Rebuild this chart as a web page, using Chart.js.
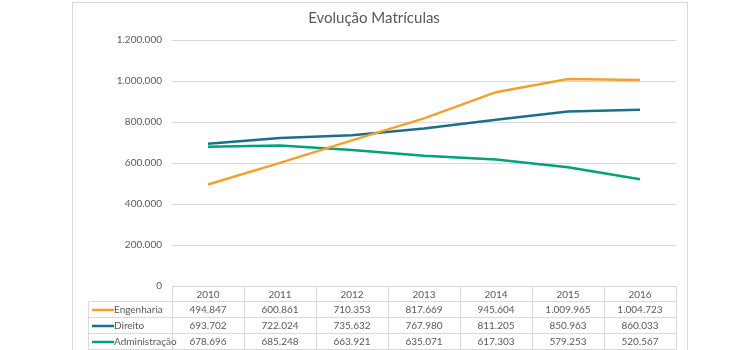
<!DOCTYPE html>
<html>
<head>
<meta charset="utf-8">
<script src="https://cdn.jsdelivr.net/npm/chart.js@4.4.1/dist/chart.umd.min.js"></script>
<style>
    html, body { margin: 0; padding: 0; background: #fff; }
    #wrap { width: 750px; height: 350px; }
</style>
</head>
<body>
<div id="wrap"><canvas id="chart-container" width="750" height="350"></canvas></div>
<script>
const years = ['2010', '2011', '2012', '2013', '2014', '2015', '2016'];
const engenharia = [494847, 600861, 710353, 817669, 945604, 1009965, 1004723];
const direito = [693702, 722024, 735632, 767980, 811205, 850963, 860033];
const administracao = [678696, 685248, 663921, 635071, 617303, 579253, 520567];
const yTicks = [0, 200000, 400000, 600000, 800000, 1000000, 1200000];

const textColor = '#595959';
const lineGray = '#d9d9d9';
const baseFont = 'Lato, "Open Sans", sans-serif';

// Format numbers like 1.009.965
function fmt(v) {
    return String(v).replace(/\B(?=(\d{3})+(?!\d))/g, '.');
}

// Draws the outer chart frame
const framePlugin = {
    id: 'frame',
    beforeDraw(chart) {
        const ctx = chart.ctx;
        ctx.save();
        ctx.strokeStyle = lineGray;
        ctx.lineWidth = 1;
        ctx.strokeRect(72.5, 2.5, 615, 360);
        ctx.restore();
    }
};

// Draws the data table under the plot (Excel style)
const tablePlugin = {
    id: 'dataTable',
    afterDraw(chart) {
        const ctx = chart.ctx;
        const x = chart.scales.x;
        const area = chart.chartArea;
        const colW = x.getPixelForValue(1) - x.getPixelForValue(0);
        const top = Math.round(area.bottom) + 0.5;
        const rowH = 16;
        const headH = 15;
        const labelLeft = 88.5;
        const left = Math.round(area.left) + 0.5;
        const right = Math.round(area.right) + 0.5;

        ctx.save();
        ctx.strokeStyle = lineGray;
        ctx.lineWidth = 1;

        // horizontal lines
        ctx.beginPath();
        ctx.moveTo(left, top); ctx.lineTo(right, top);
        for (let r = 0; r <= 3; r++) {
            const y = top + headH + r * rowH;
            ctx.moveTo(labelLeft, y); ctx.lineTo(right, y);
        }
        // vertical lines
        const bottom = top + headH + 3 * rowH;
        ctx.moveTo(labelLeft, top + headH); ctx.lineTo(labelLeft, bottom);
        for (let i = 0; i <= years.length; i++) {
            const vx = Math.round(x.getPixelForValue(0) - colW / 2 + i * colW) + 0.5;
            ctx.moveTo(vx, top); ctx.lineTo(vx, bottom);
        }
        ctx.stroke();

        ctx.fillStyle = textColor;
        ctx.font = '10px ' + baseFont;
        ctx.textBaseline = 'middle';
        ctx.textAlign = 'center';
        years.forEach((yr, i) => {
            ctx.fillText(yr, x.getPixelForValue(i), top + headH / 2 + 0.5);
        });

        chart.data.datasets.forEach((ds, r) => {
            const cy = top + headH + r * rowH + rowH / 2 + 0.5;
            ctx.textAlign = 'center';
            ds.data.forEach((v, i) => {
                ctx.fillText(fmt(v), x.getPixelForValue(i), cy);
            });
            // legend key
            ctx.strokeStyle = ds.borderColor;
            ctx.lineWidth = 2.5;
            ctx.beginPath();
            ctx.moveTo(92, cy); ctx.lineTo(114, cy);
            ctx.stroke();
            ctx.textAlign = 'left';
            ctx.fillText(ds.label, 114, cy);
        });
        ctx.restore();
    }
};

const ctx = document.getElementById('chart-container').getContext('2d');

new Chart(ctx, {
    type: 'line',
    data: {
        labels: years,
        datasets: [
            { label: 'Engenharia', data: engenharia, borderColor: '#f2a12c' },
            { label: 'Direito', data: direito, borderColor: '#1a6f8c' },
            { label: 'Administração', data: administracao, borderColor: '#00a27a' }
        ]
    },
    options: {
        responsive: false,
        animation: false,
        layout: {
            padding: { left: 72, right: 74, top: 0, bottom: 64 }
        },
        elements: {
            line: { borderWidth: 2.5, tension: 0, fill: false },
            point: { radius: 0 }
        },
        plugins: {
            legend: { display: false },
            tooltip: { enabled: false },
            title: {
                display: true,
                text: 'Evolução Matrículas',
                color: textColor,
                font: { family: baseFont, size: 15, weight: 'normal' },
                padding: { top: 9, bottom: 13 }
            }
        },
        scales: {
            x: {
                display: false,
                offset: true
            },
            y: {
                min: 0,
                max: 1200000,
                afterFit(scale) { scale.width = 100; },
                afterBuildTicks(scale) { scale.ticks = yTicks.map(v => ({ value: v })); },
                border: { display: false },
                grid: { color: lineGray, drawTicks: false },
                ticks: {
                    padding: 10,
                    color: textColor,
                    font: { family: baseFont, size: 10 },
                    callback: v => fmt(v)
                }
            }
        }
    },
    plugins: [framePlugin, tablePlugin]
});
</script>
</body>
</html>
